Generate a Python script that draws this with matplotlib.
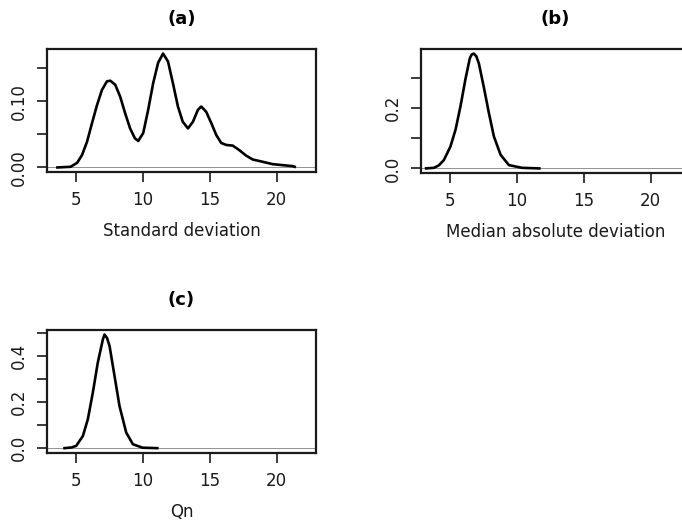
import numpy as np
import matplotlib
matplotlib.use("Agg")
import matplotlib.pyplot as plt

plt.rcParams['font.family'] = 'DejaVu Sans'

# density estimates of the three scale estimators
sd_x = [3.65, 4.63, 5.12, 5.49, 5.86, 6.23, 6.60, 6.97, 7.34, 7.59, 7.96, 8.33,
        8.70, 9.07, 9.43, 9.68, 10.05, 10.42, 10.79, 11.16, 11.53, 11.90, 12.27,
        12.64, 13.00, 13.39, 13.76, 14.13, 14.38, 14.75, 15.13, 15.50, 15.87,
        16.24, 16.73, 17.23, 17.72, 18.22, 18.96, 19.70, 20.45, 21.20, 21.35]
sd_y = [0.000, 0.001, 0.007, 0.019, 0.039, 0.067, 0.094, 0.117, 0.130, 0.131,
        0.125, 0.107, 0.082, 0.059, 0.044, 0.040, 0.052, 0.087, 0.127, 0.158,
        0.172, 0.160, 0.127, 0.092, 0.069, 0.059, 0.069, 0.087, 0.092, 0.084,
        0.067, 0.049, 0.037, 0.034, 0.033, 0.026, 0.018, 0.012, 0.0086, 0.005,
        0.0035, 0.002, 0.001]

mad_x = [3.25, 3.84, 4.20, 4.58, 5.07, 5.45, 5.82, 6.19, 6.51, 6.65, 6.81, 7.00,
         7.19, 7.56, 7.93, 8.31, 8.81, 9.43, 10.40, 11.70]
mad_y = [0.000, 0.002, 0.010, 0.028, 0.073, 0.129, 0.207, 0.297, 0.365, 0.378,
         0.381, 0.372, 0.348, 0.269, 0.185, 0.106, 0.045, 0.011, 0.002, 0.000]

qn_x = [4.18, 4.70, 5.05, 5.55, 5.92, 6.29, 6.66, 7.04, 7.16, 7.35, 7.54, 7.91,
        8.28, 8.78, 9.28, 10.00, 11.10]
qn_y = [0.000, 0.003, 0.010, 0.053, 0.126, 0.241, 0.371, 0.472, 0.493, 0.478,
        0.443, 0.313, 0.183, 0.068, 0.017, 0.002, 0.000]

panels = [
    ("(a)", "Standard deviation", sd_x, sd_y,
     [0, 0.05, 0.10, 0.15], ["0.00", "", "0.10", ""]),
    ("(b)", "Median absolute deviation", mad_x, mad_y,
     [0, 0.1, 0.2, 0.3], ["0.0", "", "0.2", ""]),
    ("(c)", "Qn", qn_x, qn_y,
     [0, 0.1, 0.2, 0.3, 0.4, 0.5], ["0.0", "", "0.2", "", "0.4", ""]),
]

# axes boxes [left, bottom, width, height]; (b) runs past the right edge
boxes = [
    [0.0689, 0.6711, 0.3944, 0.2352],
    [0.6173, 0.6692, 0.3944, 0.2371],
    [0.0689, 0.1344, 0.3944, 0.2346],
]

ink = '#1a1a1a'
fig = plt.figure(figsize=(6.82, 5.23), dpi=100)

for (title, xlab, x, y, yt, ytl), box in zip(panels, boxes):
    ax = fig.add_axes(box)
    ymax = max(y)
    ax.axhline(0, color='gray', lw=0.6, zorder=1)
    ax.plot(x, y, color='black', lw=1.9, zorder=2)
    ax.set_xlim(2.87, 22.94)
    ax.set_ylim(-0.04 * ymax, 1.04 * ymax)
    ax.set_xticks([5, 10, 15, 20])
    ax.set_yticks(yt)
    ax.set_yticklabels(ytl, rotation=90, va='center')
    ax.tick_params(length=7, width=1.2, pad=7, labelsize=12, color=ink,
                   labelcolor=ink)
    for s in ax.spines.values():
        s.set_linewidth(1.6)
        s.set_color(ink)
    ax.set_title(title, fontweight='bold', fontsize=13, pad=18)
    ax.set_xlabel(xlab, fontsize=12, labelpad=9, color=ink)

fig.savefig("out.png", dpi=100)
